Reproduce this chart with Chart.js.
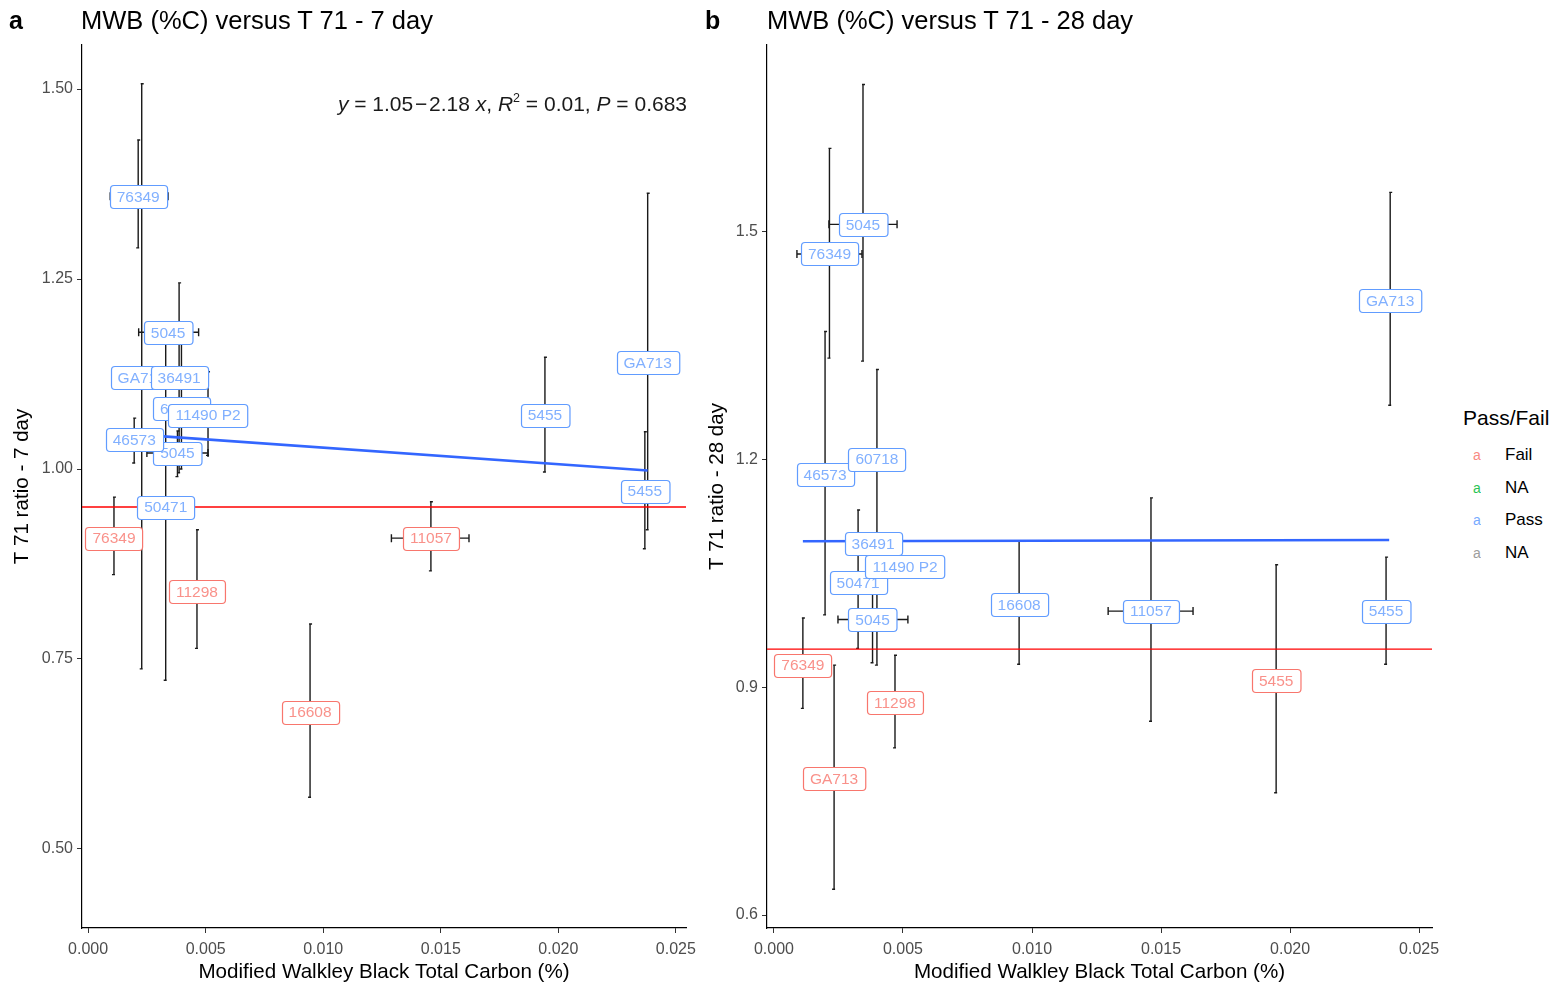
<!DOCTYPE html>
<html><head><meta charset="utf-8">
<script src="https://cdn.jsdelivr.net/npm/chart.js@4.4.1/dist/chart.umd.min.js"></script>
<style>
body{margin:0;background:#fff;width:1552px;height:987px;overflow:hidden;position:relative;font-family:"Liberation Sans",Arial,sans-serif;}
canvas{position:absolute;top:0;}
.t{position:absolute;white-space:nowrap;color:#000;}
</style></head><body>
<canvas id="c1" width="700" height="987" style="left:0"></canvas>
<canvas id="c2" width="760" height="987" style="left:690px"></canvas>
<div class="t" style="left:9px;top:5px;font-size:25px;font-weight:bold;line-height:30px">a</div>
<div class="t" style="left:81px;top:5px;font-size:25.5px;line-height:30px">MWB (%C) versus T 71 - 7 day</div>
<div class="t" style="left:705px;top:5px;font-size:25px;font-weight:bold;line-height:30px">b</div>
<div class="t" style="left:767px;top:5px;font-size:25.5px;line-height:30px">MWB (%C) versus T 71 - 28 day</div>
<div class="t" style="right:865px;top:91px;font-size:21px;line-height:26px;color:#1a1a1a"><i>y</i> = 1.05&#8202;&#8722;&#8202;2.18 <i>x</i>, <i>R</i><sup style="font-size:12.5px;vertical-align:9px;line-height:0">2</sup> = 0.01, <i>P</i> = 0.683</div>
<div class="t" style="left:1463px;top:406px;font-size:21px;line-height:24px">Pass/Fail</div>
<div id="legend"></div>
<script>
// ---------- data ----------
const xTicks = [0, 0.005, 0.010, 0.015, 0.020, 0.025];
const xTickLabels = ['0.000', '0.005', '0.010', '0.015', '0.020', '0.025'];
const yTicks7 = [0.50, 0.75, 1.00, 1.25, 1.50];
const yTickLabels7 = ['0.50', '0.75', '1.00', '1.25', '1.50'];
const yTicks28 = [0.6, 0.9, 1.2, 1.5];
const yTickLabels28 = ['0.6', '0.9', '1.2', '1.5'];

// Panel a: T 71 ratio - 7 day
const samples7  = ['76349','GA713','5045','36491','60718','11490 P2','5045','46573','50471','76349','11298','16608','11057','5455','GA713','5455'];
const group7    = ['Pass','Pass','Pass','Pass','Pass','Pass','Pass','Pass','Pass','Fail','Fail','Fail','Fail','Pass','Pass','Pass'];
const carbon7   = [0.00213,0.00228,0.00340,0.00387,0.00397,0.00510,0.00380,0.00196,0.00330,0.00110,0.00463,0.00944,0.01458,0.01943,0.02380,0.02368];
const ratio7    = [1.359,1.120,1.180,1.120,1.080,1.071,1.021,1.039,0.950,0.909,0.839,0.680,0.909,1.071,1.140,0.971];
const ratioLo7  = [1.291,0.737,1.170,0.995,1.000,1.018,0.990,1.008,0.722,0.861,0.764,0.568,0.866,0.996,0.920,0.895];
const ratioHi7  = [1.433,1.507,1.190,1.245,1.165,1.128,1.050,1.067,1.165,0.963,0.920,0.796,0.957,1.147,1.363,1.049];
const carbonLo7 = [0.00094,null,0.00215,null,null,null,0.00250,null,null,null,null,null,0.01290,null,null,null];
const carbonHi7 = [0.00340,null,0.00470,null,null,null,0.00510,null,null,null,null,null,0.01620,null,null,null];
const fitX7 = [0.0032, 0.0238];
const fitY7 = [1.043, 0.998];

// Panel b: T 71 ratio - 28 day
const samples28  = ['5045','76349','GA713','46573','60718','36491','50471','11490 P2','5045','16608','11057','5455','76349','11298','GA713','5455'];
const group28    = ['Pass','Pass','Pass','Pass','Pass','Pass','Pass','Pass','Pass','Pass','Pass','Pass','Fail','Fail','Fail','Fail'];
const carbon28   = [0.00345,0.00215,0.02388,0.00198,0.00399,0.00384,0.00326,0.00508,0.00382,0.00950,0.01461,0.02372,0.00112,0.00469,0.00233,0.01946];
const ratio28    = [1.509,1.470,1.409,1.180,1.200,1.089,1.038,1.059,0.989,1.009,1.000,1.000,0.929,0.880,0.780,0.909];
const ratioLo28  = [1.329,1.333,1.271,0.995,0.929,1.075,0.951,1.050,0.932,0.930,0.855,0.930,0.872,0.820,0.634,0.761];
const ratioHi28  = [1.693,1.609,1.551,1.368,1.318,1.100,1.133,1.070,1.030,1.092,1.149,1.071,0.991,0.942,0.929,1.061];
const carbonLo28 = [0.00213,0.00089,null,null,null,null,null,null,0.00248,null,0.01295,null,null,null,null,null];
const carbonHi28 = [0.00477,0.00341,null,null,null,null,null,null,0.00519,null,0.01624,null,null,null,null,null];
const fitX28 = [0.00112, 0.02384];
const fitY28 = [1.0920, 1.0935];

const threshold = 0.95;

const legendKeys   = ['Fail', 'NA', 'Pass', 'NA'];
const groupColors  = {Fail: '#F8766D', Pass: '#619CFF'};
const legendColors = ['#F8766D', '#00BA38', '#619CFF', '#8C8C8C'];

// ---------- legend (HTML) ----------
(function(){
  const lg = document.getElementById('legend');
  legendKeys.forEach((k, i) => {
    const y = 455 + i * 32.5;
    const a = document.createElement('div');
    a.className = 't';
    a.style.cssText = `left:1473px;top:${y-9}px;font-size:14px;line-height:18px;color:${legendColors[i]};opacity:0.85`;
    a.textContent = 'a';
    lg.appendChild(a);
    const l = document.createElement('div');
    l.className = 't';
    l.style.cssText = `left:1505px;top:${y-10}px;font-size:17px;line-height:20px;color:#000`;
    l.textContent = k;
    lg.appendChild(l);
  });
})();

const FONT = '"Liberation Sans", Arial, sans-serif';

function roundRect(ctx, x, y, w, h, r) {
  ctx.beginPath();
  ctx.moveTo(x + r, y);
  ctx.lineTo(x + w - r, y); ctx.quadraticCurveTo(x + w, y, x + w, y + r);
  ctx.lineTo(x + w, y + h - r); ctx.quadraticCurveTo(x + w, y + h, x + w - r, y + h);
  ctx.lineTo(x + r, y + h); ctx.quadraticCurveTo(x, y + h, x, y + h - r);
  ctx.lineTo(x, y + r); ctx.quadraticCurveTo(x, y, x + r, y);
  ctx.closePath();
}

const errorBarPlugin = {
  id: 'errbars',
  beforeDatasetsDraw(chart) {
    const d = chart.options.plugins.errbars;
    const xs = chart.scales.x, ys = chart.scales.y, ctx = chart.ctx;
    ctx.save();
    ctx.strokeStyle = '#1a1a1a';
    ctx.lineWidth = 1.4;
    d.x.forEach((xv, i) => {
      const px = xs.getPixelForValue(xv);
      const y1 = ys.getPixelForValue(d.lo[i]), y2 = ys.getPixelForValue(d.hi[i]);
      ctx.beginPath();
      ctx.moveTo(px, y1); ctx.lineTo(px, y2);
      ctx.moveTo(px - 2, y1); ctx.lineTo(px + 1, y1);
      ctx.moveTo(px - 1, y2); ctx.lineTo(px + 2, y2);
      ctx.stroke();
      if (d.xlo[i] != null) {
        const py = ys.getPixelForValue(d.y[i]);
        const x1 = xs.getPixelForValue(d.xlo[i]), x2 = xs.getPixelForValue(d.xhi[i]);
        ctx.beginPath();
        ctx.moveTo(x1, py); ctx.lineTo(x2, py);
        ctx.moveTo(x1, py - 4); ctx.lineTo(x1, py + 4);
        ctx.moveTo(x2, py - 4); ctx.lineTo(x2, py + 4);
        ctx.stroke();
      }
    });
    ctx.restore();
  }
};

const labelPlugin = {
  id: 'boxlabels',
  afterDatasetsDraw(chart) {
    const d = chart.options.plugins.boxlabels;
    const meta = chart.getDatasetMeta(d.datasetIndex);
    const ctx = chart.ctx;
    ctx.save();
    ctx.font = '15.5px ' + FONT;
    ctx.textAlign = 'center';
    ctx.textBaseline = 'middle';
    meta.data.forEach((el, i) => {
      const txt = d.text[i];
      const col = groupColors[d.group[i]];
      const w = ctx.measureText(txt).width + 14;
      const h = 23;
      const x = Math.round(el.x - w / 2) + 0.5, y = Math.round(el.y - h / 2) + 0.5;
      roundRect(ctx, x, y, w, h, 3.5);
      ctx.fillStyle = '#ffffff';
      ctx.fill();
      ctx.lineWidth = 1.2;
      ctx.strokeStyle = col;
      ctx.stroke();
      ctx.globalAlpha = 0.8;
      ctx.fillStyle = col;
      ctx.fillText(txt, el.x, el.y + 1);
      ctx.globalAlpha = 1;
    });
    ctx.restore();
  }
};

function makeChart(id, cfg) {
  const pts = cfg.x.map((x, i) => ({x, y: cfg.y[i]}));
  return new Chart(document.getElementById(id), {
    type: 'scatter',
    data: {
      datasets: [
        {type: 'line', data: cfg.fitX.map((x, i) => ({x, y: cfg.fitY[i]})), borderColor: '#3366FF', borderWidth: 2.6, pointRadius: 0, order: 1},
        {type: 'line', data: [{x: cfg.xmin, y: threshold}, {x: cfg.xmax, y: threshold}], borderColor: '#FF0000', borderWidth: 1.3, pointRadius: 0, order: 0},
        {type: 'scatter', data: pts, pointRadius: 0, order: 2}
      ]
    },
    options: {
      responsive: false, animation: false, events: [],
      layout: {padding: {left: 0, top: 45, right: cfg.padRight, bottom: 0}},
      plugins: {
        legend: {display: false}, tooltip: {enabled: false}, title: {display: false},
        errbars: {x: cfg.x, y: cfg.y, lo: cfg.lo, hi: cfg.hi, xlo: cfg.xlo, xhi: cfg.xhi},
        boxlabels: {datasetIndex: 2, text: cfg.text, group: cfg.group}
      },
      scales: {
        x: {
          type: 'linear', min: cfg.xmin, max: cfg.xmax,
          afterBuildTicks: s => { s.ticks = xTicks.map(v => ({value: v})); },
          afterFit: s => { s.height = 59; s.paddingLeft = 0; s.paddingRight = 0; },
          ticks: {callback: v => xTickLabels[xTicks.indexOf(v)], color: '#4D4D4D', font: {family: FONT, size: 16}, padding: 7, maxRotation: 0, autoSkip: false},
          grid: {drawOnChartArea: false, drawTicks: true, tickLength: 5, color: '#333333', lineWidth: 1},
          border: {display: true, color: '#000', width: 1.2},
          title: {display: true, text: 'Modified Walkley Black Total Carbon (%)', color: '#000', font: {family: FONT, size: 20.6}, padding: {top: 0, bottom: 2}}
        },
        y: {
          type: 'linear', min: cfg.ymin, max: cfg.ymax,
          afterBuildTicks: s => { s.ticks = cfg.yTicks.map(v => ({value: v})); },
          afterFit: s => { s.width = cfg.yWidth; s.paddingTop = 0; s.paddingBottom = 0; },
          ticks: {callback: v => cfg.yTickLabels[cfg.yTicks.indexOf(v)], color: '#4D4D4D', font: {family: FONT, size: 16}, padding: 4, autoSkip: false},
          grid: {drawOnChartArea: false, drawTicks: true, tickLength: 5, color: '#333333', lineWidth: 1},
          border: {display: true, color: '#000', width: 1.2},
          title: {display: true, text: cfg.yTitle, color: '#000', font: {family: FONT, size: 20.6}, padding: {top: cfg.yTitlePad, bottom: 0}}
        }
      }
    },
    plugins: [errorBarPlugin, labelPlugin]
  });
}

makeChart('c1', {
  x: carbon7, y: ratio7, lo: ratioLo7, hi: ratioHi7, xlo: carbonLo7, xhi: carbonHi7,
  text: samples7, group: group7, fitX: fitX7, fitY: fitY7,
  xmin: -0.00026, xmax: 0.02543, ymin: 0.396, ymax: 1.558,
  yTicks: yTicks7, yTickLabels: yTickLabels7, yWidth: 82, padRight: 14,
  yTitle: 'T 71 ratio - 7 day', yTitlePad: 10
});
makeChart('c2', {
  x: carbon28, y: ratio28, lo: ratioLo28, hi: ratioHi28, xlo: carbonLo28, xhi: carbonHi28,
  text: samples28, group: group28, fitX: fitX28, fitY: fitY28,
  xmin: -0.00027, xmax: 0.0255, ymin: 0.583, ymax: 1.745,
  yTicks: yTicks28, yTickLabels: yTickLabels28, yWidth: 77, padRight: 18,
  yTitle: 'T 71 ratio - 28 day', yTitlePad: 15
});
</script>
</body></html>
